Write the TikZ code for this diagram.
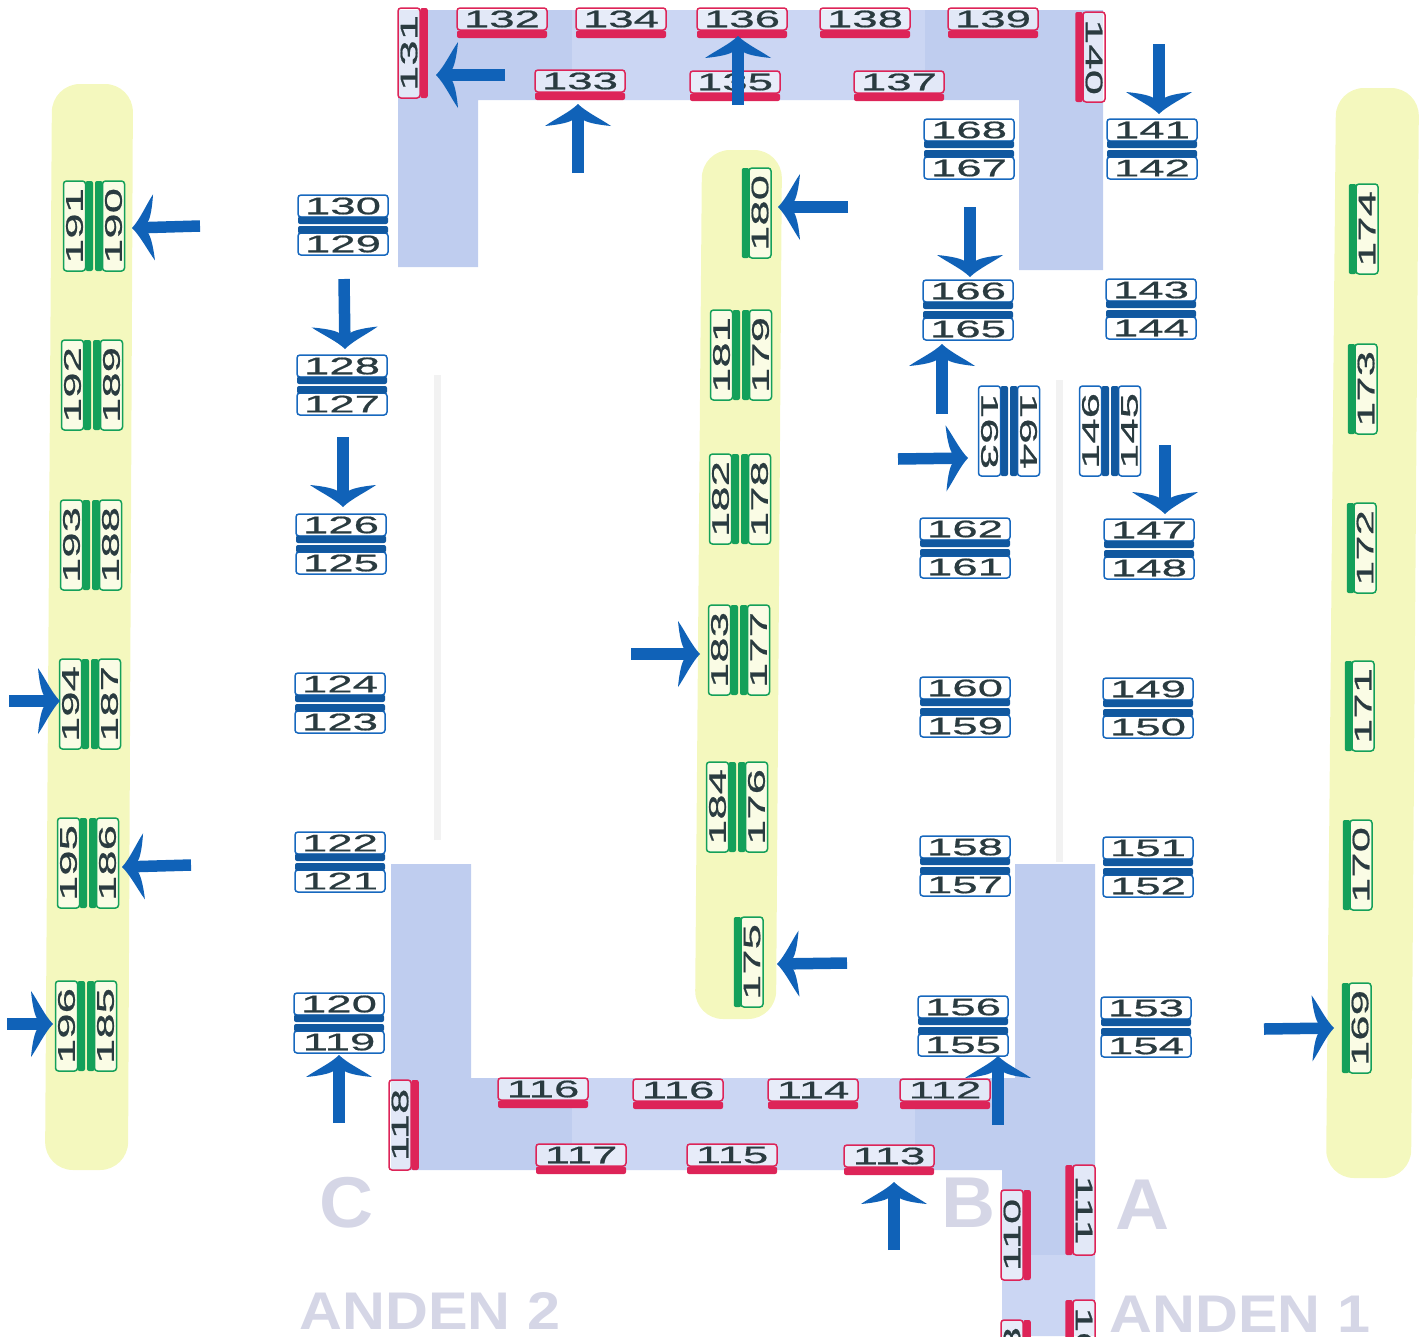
\documentclass[tikz,border=0pt]{standalone}
\usepackage{fontspec}
\setmainfont{Liberation Sans}
\newfontfamily\numfont[FakeStretch=1.9,FakeBold=0.7]{Liberation Sans}
\newfontfamily\wmfont[FakeStretch=1.04]{Liberation Sans Bold}
\newfontfamily\wmwide[FakeStretch=1.12]{Liberation Sans Bold}
\definecolor{hallblue}{HTML}{BFCDEF}
\definecolor{halllight}{HTML}{CBD6F3}
\definecolor{bandyellow}{HTML}{F4F8BE}
\definecolor{boxblue}{HTML}{1768BE}
\definecolor{barblue}{HTML}{11589F}
\definecolor{boxred}{HTML}{DD2458}
\definecolor{boxgreen}{HTML}{14A05A}
\definecolor{numink}{HTML}{2A3B40}
\definecolor{arrowblue}{HTML}{1062B8}
\definecolor{wmgray}{HTML}{D5D6E6}
\tikzset{
  numbox/.style={draw=#1,line width=1.5pt,rounded corners=3pt,minimum width=90pt,minimum height=22pt,inner sep=0pt,
    font=\numfont\fontsize{24}{24}\selectfont,text=numink,anchor=center},
  blueno/.style={numbox=boxblue,fill=white},
  redno/.style={numbox=boxred,fill=white,fill opacity=.55,text opacity=1},
  greenno/.style={numbox=boxgreen,fill=white,fill opacity=.6,text opacity=1},
  flow/.style={draw=arrowblue,line width=11.5pt,shorten >=10pt},
  fliphead/.pic={
    \fill[arrowblue] (0,0) .. controls (-8,-8) and (-15,-23) .. (-22,-33)
       .. controls (-21,-22) and (-19,-10) .. (-16,-5.5) -- (-16,5.5)
       .. controls (-19,10) and (-21,22) .. (-22,33)
       .. controls (-15,23) and (-8,8) .. (0,0) -- cycle;
  },
  watermark/.style={text=wmgray,inner sep=0pt,anchor=base}
}
% horizontal double: centre, top label, bottom label
\newcommand\pairH[4]{%
  \node[blueno] (n#3) at (#1,#2-19) {#3};
  \node[blueno] (n#4) at (#1,#2+19) {#4};
  \fill[barblue,rounded corners=2pt] (#1-45,#2-8.5) rectangle (#1+45,#2-1);
  \fill[barblue,rounded corners=2pt] (#1-45,#2+1) rectangle (#1+45,#2+8.5);
}
% vertical double: centre, left label, right label, rotation, box style, bar colour
\newcommand\dblV[7]{%
  \node[#6,rotate=#5] (n#3) at (#1-19.5,#2) {#3};
  \node[#6,rotate=#5] (n#4) at (#1+19.5,#2) {#4};
  \fill[#7,rounded corners=2pt] (#1-8.5,#2-45) rectangle (#1-1,#2+45);
  \fill[#7,rounded corners=2pt] (#1+1,#2-45) rectangle (#1+8.5,#2+45);
}
% single horizontal with bar below: x, y of box, label, name
\newcommand\redH[4]{%
  \node[redno] (#4) at (#1,#2) {#3};
  \fill[boxred,rounded corners=2pt] (#1-45,#2+11.5) rectangle (#1+45,#2+19);
}
% single vertical: box cx, cy, label, rotation, style, colour, bar offset
\newcommand\oneV[7]{%
  \node[#5,rotate=#4] (n#3) at (#1,#2) {#3};
  \fill[#6,rounded corners=2pt] (#1+#7-3.75,#2-45) rectangle (#1+#7+3.75,#2+45);
}
\newcommand\flowarrow[5]{%
  \coordinate (#1a) at (#2,#3);
  \coordinate (#1b) at (#4,#5);
  \draw[flow] (#1a) -- (#1b);
  \path (#1a) -- (#1b) pic[pos=1,sloped,allow upside down] {fliphead};
}
\begin{document}
\begin{tikzpicture}[x=1pt,y=-1pt]
\useasboundingbox (0,0) rectangle (1423,1336);
% yellow bands
\fill[bandyellow,rounded corners=28pt] (52,84) -- (133,84) -- (128,1170) -- (45,1170) -- cycle;
\fill[bandyellow,rounded corners=28pt] (702,150) -- (782,150) -- (776,1019) -- (695,1019) -- cycle;
\fill[bandyellow,rounded corners=28pt] (1336,88) -- (1419,88) -- (1411,1178) -- (1326,1178) -- cycle;
% faint guide lines
\fill[black!5] (434,375) rectangle (441,840);
\fill[black!5] (1056,380) rectangle (1063,862);
% halls
\fill[hallblue] (398,10) -- (1103,10) -- (1103,270) -- (1019,270) -- (1019,100) -- (478,100) -- (478,267) -- (398,267) -- cycle;
\fill[halllight] (572,10) rectangle (925,100);
\fill[hallblue] (391,864) -- (471,864) -- (471,1078) -- (1015,1078) -- (1015,864) -- (1095,864) -- (1095,1336) -- (1002,1336) -- (1002,1170) -- (391,1170) -- cycle;
\fill[halllight] (572,1078) rectangle (915,1170);
\fill[halllight] (1002,1255) rectangle (1095,1336);
% watermark text
\node[watermark,font=\wmfont\fontsize{72}{72}\selectfont] (hallC) at (347,1227) {C};
\node[watermark,font=\wmfont\fontsize{72}{72}\selectfont] (hallB) at (969,1227) {B};
\node[watermark,font=\wmfont\fontsize{72}{72}\selectfont] (hallA) at (1143,1229) {A};
\node[watermark,font=\wmwide\fontsize{53}{53}\selectfont] (anden2) at (430,1329) {ANDEN 2};
\node[watermark,font=\wmwide\fontsize{53}{53}\selectfont] (anden1) at (1240,1332) {ANDEN 1};
% red top
\oneV{409}{53}{131}{90}{redno}{boxred}{15}
\redH{502}{19}{132}{n132}
\redH{621}{19}{134}{n134}
\redH{742}{19}{136}{n136}
\redH{865}{19}{138}{n138}
\redH{993}{19}{139}{n139}
\redH{580}{81}{133}{n133}
\redH{735}{82}{135}{n135}
\redH{899}{82}{137}{n137}
\oneV{1094}{57}{140}{-90}{redno}{boxred}{-15}
% red bottom
\redH{543}{1089}{116}{n116a}
\redH{678}{1090}{116}{n116b}
\redH{813}{1090}{114}{n114}
\redH{945}{1090}{112}{n112}
\redH{581}{1155}{117}{n117}
\redH{732}{1155}{115}{n115}
\redH{889}{1156}{113}{n113}
\oneV{400}{1125}{118}{90}{redno}{boxred}{15}
\oneV{1012}{1235}{110}{90}{redno}{boxred}{15}
\oneV{1084}{1210}{111}{-90}{redno}{boxred}{-15}
\oneV{1012}{1365}{108}{90}{redno}{boxred}{15}
\oneV{1084}{1345}{109}{-90}{redno}{boxred}{-15}
% blue pairs
\pairH{343}{225}{130}{129}
\pairH{342}{385}{128}{127}
\pairH{341}{544}{126}{125}
\pairH{340}{703}{124}{123}
\pairH{340}{862}{122}{121}
\pairH{339}{1023}{120}{119}
\pairH{969}{149}{168}{167}
\pairH{1152}{149}{141}{142}
\pairH{968}{310}{166}{165}
\pairH{1151}{309}{143}{144}
\pairH{965}{548}{162}{161}
\pairH{1149}{549}{147}{148}
\pairH{965}{707}{160}{159}
\pairH{1148}{708}{149}{150}
\pairH{965}{866}{158}{157}
\pairH{1148}{867}{151}{152}
\pairH{963}{1026}{156}{155}
\pairH{1146}{1027}{153}{154}
\dblV{1009}{431}{163}{164}{-90}{blueno}{barblue}
\dblV{1110}{431}{146}{145}{90}{blueno}{barblue}
% green pairs
\dblV{94}{226}{191}{190}{90}{greenno}{boxgreen}
\dblV{92}{385}{192}{189}{90}{greenno}{boxgreen}
\dblV{91}{545}{193}{188}{90}{greenno}{boxgreen}
\dblV{90}{704}{194}{187}{90}{greenno}{boxgreen}
\dblV{88}{863}{195}{186}{90}{greenno}{boxgreen}
\dblV{86}{1026}{196}{185}{90}{greenno}{boxgreen}
\dblV{741}{355}{181}{179}{90}{greenno}{boxgreen}
\dblV{740}{499}{182}{178}{90}{greenno}{boxgreen}
\dblV{739}{650}{183}{177}{90}{greenno}{boxgreen}
\dblV{737}{807}{184}{176}{90}{greenno}{boxgreen}
% green singles
\oneV{760}{213}{180}{90}{greenno}{boxgreen}{-14.5}
\oneV{752}{962}{175}{90}{greenno}{boxgreen}{-14.5}
\oneV{1367}{229}{174}{90}{greenno}{boxgreen}{-14.5}
\oneV{1366}{389}{173}{90}{greenno}{boxgreen}{-14.5}
\oneV{1365}{548}{172}{90}{greenno}{boxgreen}{-14.5}
\oneV{1363}{706}{171}{90}{greenno}{boxgreen}{-14.5}
\oneV{1361}{865}{170}{90}{greenno}{boxgreen}{-14.5}
\oneV{1360}{1028}{169}{90}{greenno}{boxgreen}{-14.5}
% arrows
\flowarrow{f1}{505}{75}{436}{75}
\flowarrow{f2}{578}{173}{578}{104}
\flowarrow{f3}{738}{105}{738}{36}
\flowarrow{f4}{848}{207}{778}{207}
\flowarrow{f5}{1159}{44}{1159}{114}
\flowarrow{f6}{970}{207}{970}{277}
\flowarrow{f7}{942}{414}{942}{344}
\flowarrow{f8}{898}{459}{968}{458}
\flowarrow{f9}{1165}{445}{1165}{514}
\flowarrow{f10}{200}{226}{132}{228}
\flowarrow{f11}{344}{279}{345}{349}
\flowarrow{f12}{343}{437}{343}{507}
\flowarrow{f13}{631}{654}{700}{654}
\flowarrow{f14}{9}{701}{60}{701}
\flowarrow{f15}{191}{865}{122}{867}
\flowarrow{f16}{847}{963}{777}{964}
\flowarrow{f17}{7}{1024}{53}{1024}
\flowarrow{f18}{339}{1123}{339}{1055}
\flowarrow{f19}{998}{1125}{998}{1056}
\flowarrow{f20}{894}{1250}{894}{1182}
\flowarrow{f21}{1264}{1029}{1334}{1028}
\end{tikzpicture}
\end{document}
